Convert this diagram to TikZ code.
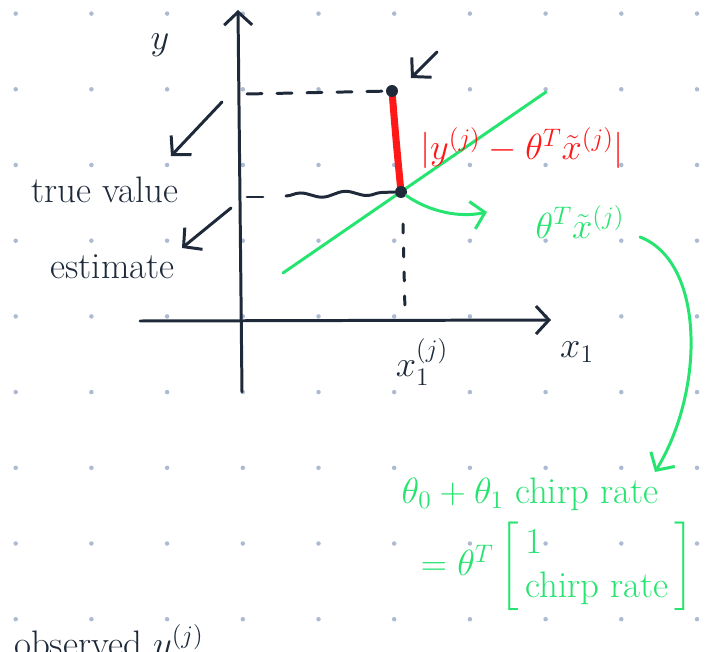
\documentclass[tikz,border=0pt]{standalone}
\usepackage{amsmath}
\usepackage{amssymb}
\usepackage{fontspec}
\usepackage{tikz}
\usetikzlibrary{positioning, arrows.meta, decorations.pathmorphing}
\definecolor{inkdark}{RGB}{30,42,58}
\definecolor{inkgreen}{RGB}{38,228,112}
\definecolor{inkred}{RGB}{255,24,24}
\definecolor{griddot}{RGB}{172,186,210}
\tikzset{
  darkline/.style  = {draw=inkdark, line width=1.7pt, line cap=round},
  greenline/.style = {draw=inkgreen, line width=1.7pt, line cap=round},
  redline/.style   = {draw=inkred, line width=4pt, line cap=round},
  inkarrow/.style  = {-{Straight Barb[length=2.6mm, width=5.6mm, line width=1.7pt]}},
  darktext/.style  = {text=inkdark, inner sep=1pt, font=\fontsize{21}{25}\selectfont},
  greentext/.style = {text=inkgreen, inner sep=1pt, font=\fontsize{21}{25}\selectfont},
  redtext/.style   = {text=inkred, inner sep=1pt, font=\fontsize{21}{25}\selectfont},
  pointdot/.style  = {circle, fill=inkdark, inner sep=0pt, minimum size=0.24cm}
}

\begin{document}
\begin{tikzpicture}[x=0.02cm, y=-0.02cm, node distance=0.5cm and 0.5cm]
\useasboundingbox (0,0) rectangle (711,652);

% dotted paper
\foreach \i in {0,...,9}
  \foreach \j in {0,...,8}
    \fill[griddot] ({15.7+75.7*\i},{13.6+75.7*\j}) circle (0.045cm);

% axes
\coordinate (ybot) at (242,392);
\coordinate (ytop) at (238,10);
\coordinate (xleft) at (140,321);
\coordinate (xright) at (551,320);
\draw[darkline, inkarrow] (ybot) -- (ytop);
\draw[darkline, inkarrow] (xleft) -- (xright);
\node[darktext] (ylab) at (160,45) {$y$};
\node[darktext] (xlab) at (577,352) {$x_1$};
\node[darktext] (xjlab) at (422,362) {$x^{(j)}_{1}$};

% fitted line
\coordinate (fit0) at (283,273);
\coordinate (fit1) at (546,92);
\draw[greenline] (fit0) -- (fit1);

% residual
\coordinate (ptruec) at (392,91);
\coordinate (pestc) at (401,192);
\draw[redline] (ptruec) .. controls (396,140) .. (pestc);
\node[pointdot] (ptrue) at (ptruec) {};
\node[pointdot] (pest) at (pestc) {};

% guide lines
\coordinate (ytrue) at (247,94);
\coordinate (yest0) at (247,197);
\coordinate (yest1) at (263,197);
\coordinate (yest2) at (286,196);
\coordinate (xjtop) at (403,224);
\coordinate (xjbot) at (405,312);
\draw[darkline, dash pattern=on 0.3cm off 0.3cm] (ytrue) -- (ptrue);
\draw[darkline] (yest0) -- (yest1);
\draw[darkline, decorate, decoration={snake, amplitude=0.05cm, segment length=0.9cm}]
  (yest2) -- (pest.west);
\draw[darkline, dash pattern=on 0.18cm off 0.3cm] (xjtop) -- (xjbot);

% pointers
\coordinate (ptop0) at (437,52);
\coordinate (ptop1) at (411,78);
\draw[darkline, inkarrow] (ptop0) -- (ptop1);
\node[darktext] (truev) at (105,190) {true value};
\node[darktext, below=0.95cm of truev, xshift=0.15cm] (estim) {estimate};
\coordinate (ptv0) at (222,102);
\coordinate (ptv1) at (171,156);
\coordinate (pes0) at (231,208);
\coordinate (pes1) at (182,248);
\draw[darkline, inkarrow] (ptv0) -- (ptv1);
\draw[darkline, inkarrow] (pes0) -- (pes1);

% labels
\node[redtext] (resid) at (522,148) {$\lvert y^{(j)} - \theta^{T}\tilde{x}^{(j)}\rvert$};
\node[greentext] (pred) at (580,222) {$\theta^{T}\tilde{x}^{(j)}$};
\coordinate (predtip) at (487,212);
\draw[greenline, inkarrow] (pest) .. controls (430,212) and (460,218) .. (predtip);
\node[greentext] (model) at (530,494) {$\theta_0 + \theta_1$ chirp rate};
\node[greentext, below=0.15cm of model, xshift=0.55cm] (modelvec)
  {$= \theta^{T}\left[\begin{array}{@{\,}l@{\,}}1\\ \text{chirp rate}\end{array}\right]$};
\coordinate (curve0) at (640,237);
\coordinate (curve1) at (655,472);
\draw[greenline, inkarrow] (curve0) .. controls (705,262) and (705,390) .. (curve1);

% cut off at the bottom
\node[darktext, anchor=north west] (obs) at (12,622) {observed $y^{(j)}$};
\end{tikzpicture}
\end{document}
